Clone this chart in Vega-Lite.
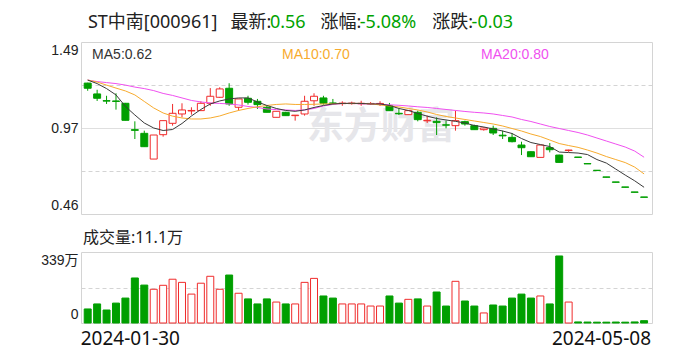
{
  "$schema": "https://vega.github.io/schema/vega-lite/v6.json",
  "background": "white",
  "padding": {"left": 35, "top": 13, "right": 5, "bottom": 5},
  "spacing": 14,
  "config": {
    "view": {"stroke": "#d4d4d4", "strokeWidth": 1},
    "font": "Noto Sans, Noto Sans CJK SC"
  },
  "datasets": {
    "k": [
      {"date": "2024-01-30", "open": 1.244, "high": 1.246, "low": 1.198, "close": 1.213, "vol": 67, "ma5": 1.262, "ma10": 1.262, "ma20": 1.262},
      {"date": "2024-01-31", "open": 1.179, "high": 1.204, "low": 1.137, "close": 1.153, "vol": 91, "ma5": 1.241, "ma10": 1.250, "ma20": 1.253},
      {"date": "2024-02-01", "open": 1.139, "high": 1.168, "low": 1.119, "close": 1.136, "vol": 62, "ma5": 1.211, "ma10": 1.232, "ma20": 1.247},
      {"date": "2024-02-02", "open": 1.137, "high": 1.183, "low": 1.085, "close": 1.134, "vol": 95, "ma5": 1.173, "ma10": 1.214, "ma20": 1.241},
      {"date": "2024-02-05", "open": 1.123, "high": 1.125, "low": 1.021, "close": 1.021, "vol": 119, "ma5": 1.104, "ma10": 1.197, "ma20": 1.232},
      {"date": "2024-02-06", "open": 0.965, "high": 1.015, "low": 0.909, "close": 0.961, "vol": 215, "ma5": 1.053, "ma10": 1.173, "ma20": 1.220},
      {"date": "2024-02-07", "open": 0.943, "high": 0.959, "low": 0.863, "close": 0.863, "vol": 181, "ma5": 1.005, "ma10": 1.134, "ma20": 1.211},
      {"date": "2024-02-08", "open": 0.789, "high": 0.933, "low": 0.789, "close": 0.933, "vol": 161, "ma5": 0.975, "ma10": 1.095, "ma20": 1.199},
      {"date": "2024-02-19", "open": 0.935, "high": 1.019, "low": 0.923, "close": 1.019, "vol": 180, "ma5": 0.960, "ma10": 1.065, "ma20": 1.182},
      {"date": "2024-02-20", "open": 1.003, "high": 1.119, "low": 0.989, "close": 1.063, "vol": 209, "ma5": 0.966, "ma10": 1.046, "ma20": 1.170},
      {"date": "2024-02-21", "open": 1.059, "high": 1.123, "low": 1.039, "close": 1.083, "vol": 194, "ma5": 1.002, "ma10": 1.035, "ma20": 1.155},
      {"date": "2024-02-22", "open": 1.077, "high": 1.099, "low": 1.055, "close": 1.080, "vol": 138, "ma5": 1.047, "ma10": 1.029, "ma20": 1.140},
      {"date": "2024-02-23", "open": 1.079, "high": 1.135, "low": 1.079, "close": 1.123, "vol": 190, "ma5": 1.086, "ma10": 1.029, "ma20": 1.131},
      {"date": "2024-02-26", "open": 1.123, "high": 1.214, "low": 1.108, "close": 1.165, "vol": 223, "ma5": 1.119, "ma10": 1.035, "ma20": 1.125},
      {"date": "2024-02-27", "open": 1.159, "high": 1.219, "low": 1.155, "close": 1.209, "vol": 161, "ma5": 1.137, "ma10": 1.047, "ma20": 1.122},
      {"date": "2024-02-28", "open": 1.213, "high": 1.243, "low": 1.108, "close": 1.119, "vol": 229, "ma5": 1.149, "ma10": 1.065, "ma20": 1.119},
      {"date": "2024-02-29", "open": 1.099, "high": 1.149, "low": 1.079, "close": 1.149, "vol": 142, "ma5": 1.155, "ma10": 1.080, "ma20": 1.113},
      {"date": "2024-03-01", "open": 1.153, "high": 1.168, "low": 1.115, "close": 1.129, "vol": 115, "ma5": 1.155, "ma10": 1.092, "ma20": 1.104},
      {"date": "2024-03-04", "open": 1.135, "high": 1.149, "low": 1.089, "close": 1.115, "vol": 91, "ma5": 1.131, "ma10": 1.102, "ma20": 1.098},
      {"date": "2024-03-05", "open": 1.099, "high": 1.109, "low": 1.069, "close": 1.069, "vol": 115, "ma5": 1.110, "ma10": 1.110, "ma20": 1.089},
      {"date": "2024-03-06", "open": 1.039, "high": 1.075, "low": 1.039, "close": 1.075, "vol": 100, "ma5": 1.092, "ma10": 1.116, "ma20": 1.085},
      {"date": "2024-03-07", "open": 1.069, "high": 1.072, "low": 1.049, "close": 1.049, "vol": 91, "ma5": 1.080, "ma10": 1.119, "ma20": 1.083},
      {"date": "2024-03-08", "open": 1.049, "high": 1.052, "low": 1.019, "close": 1.052, "vol": 91, "ma5": 1.075, "ma10": 1.116, "ma20": 1.080},
      {"date": "2024-03-11", "open": 1.059, "high": 1.168, "low": 1.049, "close": 1.135, "vol": 194, "ma5": 1.083, "ma10": 1.116, "ma20": 1.083},
      {"date": "2024-03-12", "open": 1.138, "high": 1.183, "low": 1.108, "close": 1.165, "vol": 213, "ma5": 1.098, "ma10": 1.117, "ma20": 1.092},
      {"date": "2024-03-13", "open": 1.155, "high": 1.168, "low": 1.115, "close": 1.123, "vol": 129, "ma5": 1.110, "ma10": 1.119, "ma20": 1.107},
      {"date": "2024-03-14", "open": 1.125, "high": 1.149, "low": 1.115, "close": 1.121, "vol": 119, "ma5": 1.119, "ma10": 1.120, "ma20": 1.116},
      {"date": "2024-03-15", "open": 1.121, "high": 1.135, "low": 1.108, "close": 1.124, "vol": 91, "ma5": 1.122, "ma10": 1.122, "ma20": 1.122},
      {"date": "2024-03-18", "open": 1.121, "high": 1.133, "low": 1.115, "close": 1.124, "vol": 91, "ma5": 1.123, "ma10": 1.122, "ma20": 1.122},
      {"date": "2024-03-19", "open": 1.120, "high": 1.138, "low": 1.108, "close": 1.123, "vol": 91, "ma5": 1.122, "ma10": 1.122, "ma20": 1.120},
      {"date": "2024-03-20", "open": 1.119, "high": 1.130, "low": 1.115, "close": 1.122, "vol": 81, "ma5": 1.119, "ma10": 1.120, "ma20": 1.119},
      {"date": "2024-03-21", "open": 1.119, "high": 1.135, "low": 1.107, "close": 1.122, "vol": 81, "ma5": 1.119, "ma10": 1.113, "ma20": 1.117},
      {"date": "2024-03-22", "open": 1.108, "high": 1.125, "low": 1.079, "close": 1.079, "vol": 129, "ma5": 1.110, "ma10": 1.107, "ma20": 1.114},
      {"date": "2024-03-25", "open": 1.063, "high": 1.093, "low": 1.053, "close": 1.060, "vol": 95, "ma5": 1.092, "ma10": 1.101, "ma20": 1.111},
      {"date": "2024-03-26", "open": 1.055, "high": 1.079, "low": 1.055, "close": 1.079, "vol": 113, "ma5": 1.080, "ma10": 1.092, "ma20": 1.107},
      {"date": "2024-03-27", "open": 1.069, "high": 1.079, "low": 1.015, "close": 1.025, "vol": 115, "ma5": 1.062, "ma10": 1.083, "ma20": 1.102},
      {"date": "2024-03-28", "open": 1.018, "high": 1.049, "low": 1.005, "close": 1.021, "vol": 81, "ma5": 1.046, "ma10": 1.071, "ma20": 1.098},
      {"date": "2024-03-29", "open": 1.015, "high": 1.039, "low": 0.933, "close": 1.007, "vol": 148, "ma5": 1.032, "ma10": 1.056, "ma20": 1.092},
      {"date": "2024-04-01", "open": 0.994, "high": 1.019, "low": 0.973, "close": 0.992, "vol": 81, "ma5": 1.023, "ma10": 1.044, "ma20": 1.086},
      {"date": "2024-04-02", "open": 0.989, "high": 1.079, "low": 0.959, "close": 1.019, "vol": 199, "ma5": 1.015, "ma10": 1.035, "ma20": 1.080},
      {"date": "2024-04-03", "open": 1.013, "high": 1.019, "low": 0.989, "close": 0.999, "vol": 105, "ma5": 1.005, "ma10": 1.026, "ma20": 1.074},
      {"date": "2024-04-08", "open": 0.989, "high": 0.995, "low": 0.965, "close": 0.965, "vol": 81, "ma5": 0.990, "ma10": 1.017, "ma20": 1.069},
      {"date": "2024-04-09", "open": 0.965, "high": 0.979, "low": 0.959, "close": 0.975, "vol": 48, "ma5": 0.981, "ma10": 1.008, "ma20": 1.065},
      {"date": "2024-04-10", "open": 0.973, "high": 0.989, "low": 0.933, "close": 0.945, "vol": 86, "ma5": 0.969, "ma10": 0.999, "ma20": 1.059},
      {"date": "2024-04-11", "open": 0.932, "high": 0.959, "low": 0.909, "close": 0.928, "vol": 81, "ma5": 0.957, "ma10": 0.987, "ma20": 1.050},
      {"date": "2024-04-12", "open": 0.919, "high": 0.945, "low": 0.889, "close": 0.893, "vol": 119, "ma5": 0.942, "ma10": 0.972, "ma20": 1.041},
      {"date": "2024-04-15", "open": 0.873, "high": 0.893, "low": 0.813, "close": 0.857, "vol": 138, "ma5": 0.912, "ma10": 0.957, "ma20": 1.026},
      {"date": "2024-04-16", "open": 0.833, "high": 0.835, "low": 0.803, "close": 0.803, "vol": 119, "ma5": 0.888, "ma10": 0.939, "ma20": 1.014},
      {"date": "2024-04-17", "open": 0.799, "high": 0.873, "low": 0.799, "close": 0.873, "vol": 129, "ma5": 0.876, "ma10": 0.924, "ma20": 0.999},
      {"date": "2024-04-18", "open": 0.857, "high": 0.885, "low": 0.829, "close": 0.845, "vol": 91, "ma5": 0.864, "ma10": 0.903, "ma20": 0.984},
      {"date": "2024-04-19", "open": 0.813, "high": 0.815, "low": 0.769, "close": 0.769, "vol": 320, "ma5": 0.831, "ma10": 0.882, "ma20": 0.972},
      {"date": "2024-04-22", "open": 0.840, "high": 0.845, "low": 0.832, "close": 0.843, "vol": 100, "ma5": 0.828, "ma10": 0.870, "ma20": 0.960},
      {"date": "2024-04-24", "open": 0.801, "high": 0.801, "low": 0.799, "close": 0.799, "vol": 5, "ma5": 0.825, "ma10": 0.859, "ma20": 0.948},
      {"date": "2024-04-25", "open": 0.762, "high": 0.762, "low": 0.760, "close": 0.760, "vol": 4.5, "ma5": 0.816, "ma10": 0.843, "ma20": 0.933},
      {"date": "2024-04-26", "open": 0.722, "high": 0.722, "low": 0.720, "close": 0.720, "vol": 4, "ma5": 0.786, "ma10": 0.825, "ma20": 0.915},
      {"date": "2024-04-29", "open": 0.682, "high": 0.682, "low": 0.680, "close": 0.680, "vol": 4, "ma5": 0.765, "ma10": 0.804, "ma20": 0.897},
      {"date": "2024-04-30", "open": 0.652, "high": 0.652, "low": 0.650, "close": 0.650, "vol": 4.5, "ma5": 0.729, "ma10": 0.786, "ma20": 0.879},
      {"date": "2024-05-06", "open": 0.622, "high": 0.622, "low": 0.620, "close": 0.620, "vol": 4, "ma5": 0.693, "ma10": 0.768, "ma20": 0.861},
      {"date": "2024-05-07", "open": 0.592, "high": 0.592, "low": 0.590, "close": 0.590, "vol": 5, "ma5": 0.659, "ma10": 0.741, "ma20": 0.837},
      {"date": "2024-05-08", "open": 0.562, "high": 0.562, "low": 0.560, "close": 0.560, "vol": 11.1, "ma5": 0.620, "ma10": 0.700, "ma20": 0.800}
    ]
  },
  "vconcat": [
    {
      "width": 571,
      "height": 172,
      "data": {"name": "k"},
      "encoding": {
        "x": {"field": "date", "type": "ordinal", "title": null, "scale": {"paddingInner": 0.26, "paddingOuter": 0.405, "align": 0.42}, "axis": null}
      },
      "layer": [
        {
          "data": {"values": [{}]},
          "mark": {"type": "text", "text": "东方财富", "align": "center", "baseline": "middle", "dx": 293, "fontSize": 37, "fontWeight": "bold", "font": "Noto Sans CJK SC", "color": "#e6e6ea"},
          "encoding": {
            "x": {"datum": "2024-01-30", "type": "ordinal"},
            "y": {"datum": 0.975, "type": "quantitative", "title": null,
              "scale": {"domain": [0.46, 1.49], "nice": false, "zero": false},
              "axis": {"values": [0.46, 0.7175, 0.975, 1.2325, 1.49], "format": ".2f",
                "labelExpr": "datum.value == 0.7175 || datum.value == 1.2325 ? '' : datum.label",
                "domain": false, "ticks": false, "labelFlush": true, "labelFlushOffset": -1.5,
                "labelPadding": 3, "labelFontSize": 14, "labelFont": "Liberation Sans, Noto Sans CJK SC", "labelColor": "#222",
                "minExtent": 45, "maxExtent": 45, "title": null,
                "grid": true, "gridColor": "#d4d4d4",
                "gridDash": {"condition": {"test": "datum.value == 0.975", "value": [1, 0]}, "value": [4, 3]},
                "gridOpacity": {"condition": {"test": "datum.value == 0.46 || datum.value == 1.49", "value": 0}, "value": 1}}}
          }
        },
        {
          "mark": {"type": "rule", "strokeWidth": 1},
          "encoding": {
            "y": {"field": "low", "type": "quantitative", "title": null},
            "y2": {"field": "high"},
            "color": {"condition": {"test": "datum.close >= datum.open", "value": "#f02b2b"}, "value": "#009f00"}
          }
        },
        {
          "mark": {"type": "bar", "strokeWidth": 1},
          "encoding": {
            "y": {"field": "open", "type": "quantitative", "title": null},
            "y2": {"field": "close"},
            "fill": {"condition": {"test": "datum.close >= datum.open", "value": "#ffffff"}, "value": "#009f00"},
            "stroke": {"condition": {"test": "datum.close >= datum.open", "value": "#f02b2b"}, "value": "#009f00"}
          }
        },
        {
          "mark": {"type": "line", "strokeWidth": 1, "color": "#f050f0"},
          "encoding": {"y": {"field": "ma20", "type": "quantitative", "title": null}}
        },
        {
          "mark": {"type": "line", "strokeWidth": 1, "color": "#f7ab2e"},
          "encoding": {"y": {"field": "ma10", "type": "quantitative", "title": null}}
        },
        {
          "mark": {"type": "line", "strokeWidth": 1, "color": "#3a3a3a"},
          "encoding": {"y": {"field": "ma5", "type": "quantitative", "title": null}}
        },
        {
          "data": {"values": [{}]},
          "mark": {"type": "text", "text": "MA5:0.62", "align": "left", "baseline": "middle", "dx": 4.4, "fontSize": 14, "font": "Liberation Sans", "color": "#333333"},
          "encoding": {"x": {"datum": "2024-01-30", "type": "ordinal"}, "y": {"datum": 1.413, "type": "quantitative", "title": null}}
        },
        {
          "data": {"values": [{}]},
          "mark": {"type": "text", "text": "MA10:0.70", "align": "left", "baseline": "middle", "dx": 194.4, "fontSize": 14, "font": "Liberation Sans", "color": "#f7ab2e"},
          "encoding": {"x": {"datum": "2024-01-30", "type": "ordinal"}, "y": {"datum": 1.413, "type": "quantitative", "title": null}}
        },
        {
          "data": {"values": [{}]},
          "mark": {"type": "text", "text": "MA20:0.80", "align": "left", "baseline": "middle", "dx": 393.4, "fontSize": 14, "font": "Liberation Sans", "color": "#f050f0"},
          "encoding": {"x": {"datum": "2024-01-30", "type": "ordinal"}, "y": {"datum": 1.413, "type": "quantitative", "title": null}}
        },
        {
          "data": {"values": [{}]},
          "mark": {"type": "text", "text": "ST中南[000961]", "align": "left", "baseline": "middle", "dx": 0.2, "fontSize": 18, "color": "#222222"},
          "encoding": {"x": {"datum": "2024-01-30", "type": "ordinal"}, "y": {"datum": 1.604, "type": "quantitative", "title": null}}
        },
        {
          "data": {"values": [{}]},
          "mark": {"type": "text", "text": "最新:", "align": "left", "baseline": "middle", "dx": 142.7, "fontSize": 18, "color": "#222222"},
          "encoding": {"x": {"datum": "2024-01-30", "type": "ordinal"}, "y": {"datum": 1.604, "type": "quantitative", "title": null}}
        },
        {
          "data": {"values": [{}]},
          "mark": {"type": "text", "text": "0.56", "align": "left", "baseline": "middle", "dx": 182.2, "fontSize": 18, "color": "#00a300"},
          "encoding": {"x": {"datum": "2024-01-30", "type": "ordinal"}, "y": {"datum": 1.604, "type": "quantitative", "title": null}}
        },
        {
          "data": {"values": [{}]},
          "mark": {"type": "text", "text": "涨幅:", "align": "left", "baseline": "middle", "dx": 232.7, "fontSize": 18, "color": "#222222"},
          "encoding": {"x": {"datum": "2024-01-30", "type": "ordinal"}, "y": {"datum": 1.604, "type": "quantitative", "title": null}}
        },
        {
          "data": {"values": [{}]},
          "mark": {"type": "text", "text": "-5.08%", "align": "left", "baseline": "middle", "dx": 272.1, "fontSize": 18, "color": "#00a300"},
          "encoding": {"x": {"datum": "2024-01-30", "type": "ordinal"}, "y": {"datum": 1.604, "type": "quantitative", "title": null}}
        },
        {
          "data": {"values": [{}]},
          "mark": {"type": "text", "text": "涨跌:", "align": "left", "baseline": "middle", "dx": 344.5, "fontSize": 18, "color": "#222222"},
          "encoding": {"x": {"datum": "2024-01-30", "type": "ordinal"}, "y": {"datum": 1.604, "type": "quantitative", "title": null}}
        },
        {
          "data": {"values": [{}]},
          "mark": {"type": "text", "text": "-0.03", "align": "left", "baseline": "middle", "dx": 383.9, "fontSize": 18, "color": "#00a300"},
          "encoding": {"x": {"datum": "2024-01-30", "type": "ordinal"}, "y": {"datum": 1.604, "type": "quantitative", "title": null}}
        }
      ]
    },
    {
      "width": 571,
      "height": 71,
      "title": {"text": "成交量:11.1万", "anchor": "start", "frame": "group", "fontSize": 16, "fontWeight": "normal", "font": "Noto Sans, Noto Sans CJK SC", "color": "#222222", "offset": 6, "dx": 2},
      "data": {"name": "k"},
      "mark": {"type": "bar", "strokeWidth": 1},
      "encoding": {
        "x": {"field": "date", "type": "ordinal", "title": null,
          "scale": {"paddingInner": 0.26, "paddingOuter": 0.405, "align": 0.42},
          "axis": {"values": ["2024-01-30", "2024-05-08"], "labelAngle": 0, "labelFlush": 25, "labelFlushOffset": 7,
            "ticks": false, "domain": false, "grid": false, "labelPadding": 6, "labelFontSize": 19, "labelFont": "Noto Sans", "labelColor": "#111111", "title": null}},
        "y": {"field": "vol", "type": "quantitative", "title": null,
          "scale": {"domain": [0, 339], "nice": false},
          "axis": {"values": [0, 169.5, 339],
            "labelExpr": "datum.value == 0 ? '0' : datum.value == 339 ? '339万' : ''",
            "domain": false, "ticks": false, "labelFlush": true, "labelFlushOffset": -1.5,
            "labelPadding": 3, "labelFontSize": 14, "labelFont": "Liberation Sans, Noto Sans CJK SC", "labelColor": "#222",
            "minExtent": 45, "maxExtent": 45, "title": null,
            "grid": true, "gridColor": "#d4d4d4", "gridDash": [4, 3],
            "gridOpacity": {"condition": {"test": "datum.value == 169.5", "value": 1}, "value": 0}}},
        "fill": {"condition": {"test": "datum.close >= datum.open", "value": "#ffffff"}, "value": "#009f00"},
        "stroke": {"condition": {"test": "datum.close >= datum.open", "value": "#f02b2b"}, "value": "#009f00"}
      }
    }
  ]
}
